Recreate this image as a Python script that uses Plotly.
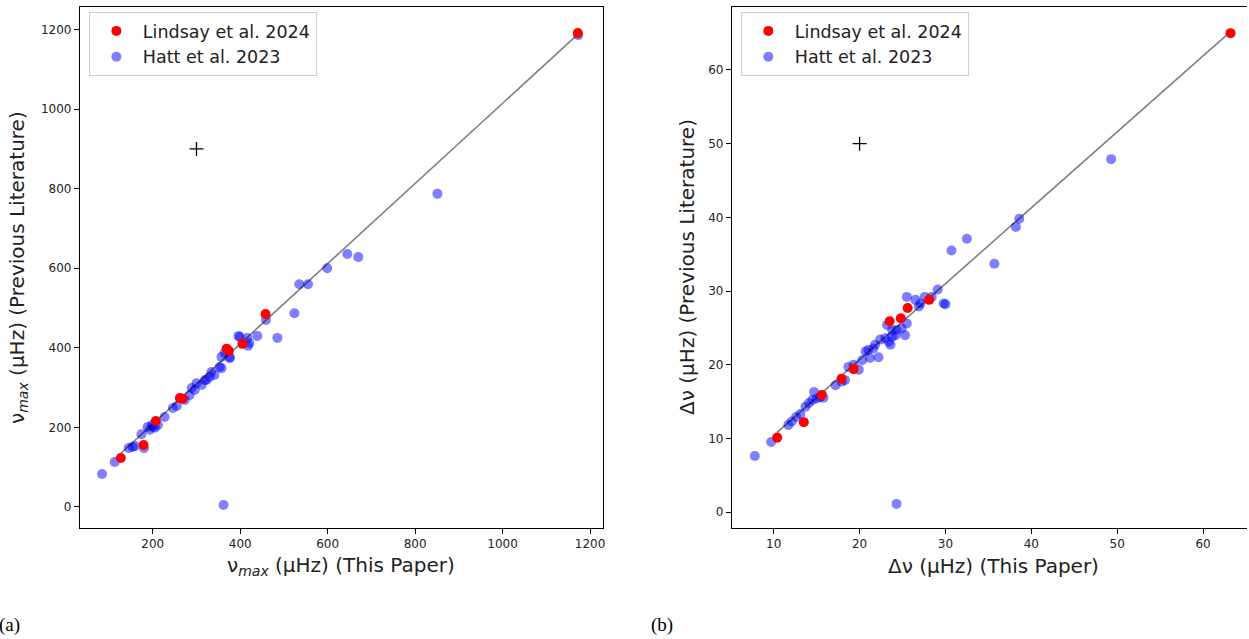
import plotly.graph_objects as go

W, H = 1249, 639

# ---- nu_max comparison (muHz) ----
lindsay_numax_this = [127, 179, 207, 262, 268, 369, 374, 405, 458, 1172]
lindsay_numax_lit = [123, 156, 216, 274, 272, 398, 392, 410, 485, 1191]

hatt_numax_this = [84, 113, 145, 154, 159, 174, 180, 188, 193, 198, 205, 212, 200,
                   227, 246, 255, 273, 284, 289, 296, 300, 312, 319, 323, 330, 334,
                   341, 353, 357, 357, 364, 376, 376, 396, 399, 416, 418, 421, 439,
                   459, 485, 524, 535, 555, 599, 645, 670, 851, 362, 1173]
hatt_numax_lit = [83, 113, 148, 151, 153, 183, 148, 201, 194, 206, 199, 206, 201,
                  226, 249, 254, 269, 281, 299, 294, 311, 307, 319, 319, 327, 339,
                  332, 352, 349, 377, 387, 377, 374, 430, 427, 425, 405, 412, 430,
                  470, 425, 487, 560, 560, 600, 636, 628, 787, 5, 1186]

numax_fit_x = [127, 1172]
numax_fit_y = [135, 1188]
numax_ref_x = [300]
numax_ref_y = [900]

# ---- Delta nu comparison (muHz) ----
lindsay_dnu_this = [10.4, 13.5, 15.6, 17.9, 19.3, 23.5, 24.8, 25.6, 28.1, 63.2]
lindsay_dnu_lit = [10.1, 12.2, 15.9, 18.1, 19.4, 25.9, 26.3, 27.7, 28.8, 65.0]

hatt_dnu_this = [7.8, 9.7, 11.7, 12.1, 12.6, 13.1, 13.7, 14.1, 14.5, 14.7, 15.0, 15.4,
                 15.8, 17.2, 17.9, 18.3, 18.7, 19.3, 19.9, 20.3, 20.7, 21.0, 21.6,
                 21.2, 22.2, 21.8, 22.4, 23.0, 23.4, 23.8, 24.2, 23.6, 23.2, 23.8,
                 24.3, 24.9, 25.5, 25.3, 25.5, 26.5, 26.9, 27.6, 28.4, 29.1, 29.8,
                 30.0, 27.1, 30.7, 32.5, 35.7, 38.2, 38.6, 49.3, 24.3]
hatt_dnu_lit = [7.6, 9.5, 11.8, 12.3, 12.9, 13.3, 14.3, 14.8, 15.2, 16.3, 15.4, 15.6,
                15.5, 17.2, 17.7, 17.9, 19.7, 20.0, 19.3, 20.6, 21.8, 22.0, 22.2,
                20.9, 21.0, 22.7, 23.4, 23.6, 23.1, 23.8, 24.0, 22.7, 25.4, 24.7,
                24.7, 24.9, 25.6, 24.0, 29.2, 28.8, 27.9, 29.2, 29.2, 30.2, 28.3,
                28.2, 28.3, 35.5, 37.1, 33.7, 38.7, 39.8, 47.9, 1.1]

dnu_fit_x = [10.4, 63.2]
dnu_fit_y = [10.8, 65.2]
dnu_ref_x = [20]
dnu_ref_y = [50]

FONT = "DejaVu Sans"
RED = "#ff0000"
BLUE = "rgba(0,0,255,0.5)"


def px_x(p):
    return p / W


def px_y(p):
    return 1 - p / H


fig = go.Figure()


def add_panel(xa, ya, leg, hx, hy, lx, ly, fx, fy, rx, ry):
    fig.add_trace(go.Scatter(
        x=hx, y=hy, mode="markers", name="Hatt et al. 2023",
        marker=dict(color=BLUE, size=10, line=dict(width=0)),
        xaxis=xa, yaxis=ya, legend=leg, legendrank=2))
    fig.add_trace(go.Scatter(
        x=fx, y=fy, mode="lines", showlegend=False,
        line=dict(color="rgba(0,0,0,0.5)", width=1.6),
        xaxis=xa, yaxis=ya))
    fig.add_trace(go.Scatter(
        x=lx, y=ly, mode="markers", name="Lindsay et al. 2024",
        marker=dict(color=RED, size=10, line=dict(width=0)),
        xaxis=xa, yaxis=ya, legend=leg, legendrank=1))
    fig.add_trace(go.Scatter(
        x=rx, y=ry, mode="markers", showlegend=False,
        marker=dict(symbol="cross-thin", size=10, color="black",
                    line=dict(color="black", width=1.3)),
        xaxis=xa, yaxis=ya))


add_panel("x", "y", "legend", hatt_numax_this, hatt_numax_lit,
          lindsay_numax_this, lindsay_numax_lit, numax_fit_x, numax_fit_y,
          numax_ref_x, numax_ref_y)
add_panel("x2", "y2", "legend2", hatt_dnu_this, hatt_dnu_lit,
          lindsay_dnu_this, lindsay_dnu_lit, dnu_fit_x, dnu_fit_y,
          dnu_ref_x, dnu_ref_y)

axis_common = dict(showgrid=False, zeroline=False, showline=True, linecolor="black",
                   linewidth=1, ticks="outside", ticklen=5, tickwidth=1,
                   tickcolor="black", tickfont=dict(family=FONT, size=12, color="#222"))

top, bottom = 7, 528
ydom = [px_y(bottom), px_y(top)]

legend_common = dict(xanchor="left", yanchor="top", itemwidth=43,
                     bgcolor="rgba(255,255,255,0.8)", bordercolor="#cccccc",
                     borderwidth=1, font=dict(family=FONT, size=17.5, color="#222"))

fig.update_layout(
    width=W, height=H, autosize=False,
    margin=dict(l=0, r=0, t=0, b=0),
    paper_bgcolor="white", plot_bgcolor="white",
    xaxis=dict(domain=[px_x(80), px_x(604)], range=[33.3, 1229.7], anchor="y",
               tickvals=[200, 400, 600, 800, 1000, 1200], mirror=True, **axis_common),
    yaxis=dict(domain=ydom, range=[-52.8, 1256.6], anchor="x",
               tickvals=[0, 200, 400, 600, 800, 1000, 1200], mirror=True, **axis_common),
    xaxis2=dict(domain=[px_x(733), 1.0], range=[5.12, 65.12], anchor="y2",
                tickvals=[10, 20, 30, 40, 50, 60], mirror=True, **axis_common),
    yaxis2=dict(domain=ydom, range=[-2.17, 68.55], anchor="x2",
                tickvals=[0, 10, 20, 30, 40, 50, 60], mirror=False, **axis_common),
    legend=dict(x=px_x(89), y=px_y(12), **legend_common),
    legend2=dict(x=px_x(742), y=px_y(12), **legend_common),
)

title_font = dict(family=FONT, size=20, color="#222")
annotations = [
    dict(text="ν<sub><i>max</i></sub> (μHz) (This Paper)", x=px_x(342), y=px_y(566)),
    dict(text="ν<sub><i>max</i></sub> (μHz) (Previous Literature)", x=px_x(18),
         y=px_y(267), textangle=-90),
    dict(text="Δν (μHz) (This Paper)", x=px_x(995), y=px_y(566)),
    dict(text="Δν (μHz) (Previous Literature)", x=px_x(688), y=px_y(267),
         textangle=-90),
]
for a in annotations:
    fig.add_annotation(xref="paper", yref="paper", showarrow=False,
                       xanchor="center", yanchor="middle", font=title_font, **a)

for txt, xp in [("(a)", 10), ("(b)", 663)]:
    fig.add_annotation(text=txt, xref="paper", yref="paper", x=px_x(xp), y=px_y(625),
                       showarrow=False, xanchor="center", yanchor="middle",
                       font=dict(family="Liberation Serif", size=19, color="black"))

fig.write_html("out.html")
